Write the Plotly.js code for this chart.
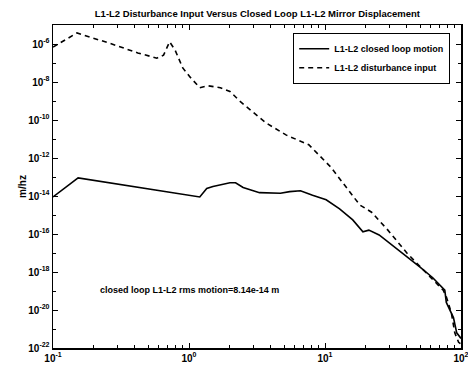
<!DOCTYPE html>
<html><head><meta charset="utf-8">
<script src="https://cdn.plot.ly/plotly-3.0.1.min.js"></script>
<style>html,body{margin:0;padding:0;background:#fff}#c{width:468px;height:365px}</style>
</head><body><div id="c"></div>
<script>
const closedFreq = [0.1, 0.153, 1.2, 1.35, 1.5, 2.0, 2.2, 2.5, 3.3, 4.7, 5.5, 6.6, 8.1, 10.2, 12.8, 16, 19, 21, 25, 35, 50, 62, 76, 78, 83, 88, 93, 98, 100];
const closedVals = [8.9e-15, 8.9e-14, 8.9e-15, 2.5e-14, 3.2e-14, 5.0e-14, 5.0e-14, 2.8e-14, 1.5e-14, 1.4e-14, 1.7e-14, 1.9e-14, 1.1e-14, 6.3e-15, 2.1e-15, 5.5e-16, 1.3e-16, 1.6e-16, 8.9e-17, 1.4e-17, 1.8e-18, 5.0e-19, 1.1e-19, 2.5e-20, 1.0e-20, 4.0e-21, 6.3e-22, 4.0e-22, 3.2e-22];
const distFreq = [0.1, 0.15, 0.26, 0.42, 0.58, 0.65, 0.72, 0.79, 0.90, 1.02, 1.2, 1.38, 1.7, 2.0, 2.4, 3.0, 3.7, 5.2, 7.6, 11, 13.5, 18, 22, 29, 40, 50, 62, 74, 78, 85, 90, 96, 100];
const distVals = [6.9e-7, 3.8e-6, 1.1e-6, 3.4e-7, 1.8e-7, 2.6e-7, 1.3e-6, 4.8e-7, 5.5e-8, 1.8e-8, 5.0e-9, 6.3e-9, 5.0e-9, 3.2e-9, 8.9e-10, 2.3e-10, 6.9e-11, 1.6e-11, 5.0e-12, 3.4e-13, 5.0e-14, 3.4e-15, 1.4e-15, 1.6e-16, 1.0e-17, 2.0e-18, 4.0e-19, 1.1e-19, 5.0e-20, 6.9e-21, 6.3e-22, 2.0e-22, 1.6e-22];
const xTickVals = [0.1, 1, 10, 100];
const xTickText = ['10<sup>-1</sup>', '10<sup>0</sup>', '10<sup>1</sup>', '10<sup>2</sup>'];
const yTickVals = [1e-22, 1e-20, 1e-18, 1e-16, 1e-14, 1e-12, 1e-10, 1e-8, 1e-6];
const yTickText = ['10<sup>-22</sup>', '10<sup>-20</sup>', '10<sup>-18</sup>', '10<sup>-16</sup>', '10<sup>-14</sup>', '10<sup>-12</sup>', '10<sup>-10</sup>', '10<sup>-8</sup>', '10<sup>-6</sup>'];
const xMinor = [0.2,0.3,0.4,0.5,0.6,0.7,0.8,0.9,2,3,4,5,6,7,8,9,20,30,40,50,60,70,80,90];
const yMinor = [1e-21, 1e-19, 1e-17, 1e-15, 1e-13, 1e-11, 1e-9, 1e-7, 1e-5];
const annotationText = 'closed loop L1-L2 rms motion=8.14e-14 m';
const titleText = 'L1-L2 Disturbance Input Versus Closed Loop L1-L2 Mirror Displacement';

const F = 'Liberation Sans, Arial, sans-serif';
const traces = [
  {x: closedFreq, y: closedVals, type: 'scatter', mode: 'lines', name: 'L1-L2 closed loop motion',
   line: {color: '#000', width: 1.6}},
  {x: distFreq, y: distVals, type: 'scatter', mode: 'lines', name: 'L1-L2 disturbance input',
   line: {color: '#000', width: 1.6, dash: '5px,4px'}}
];
const axBase = {type: 'log', showgrid: false, zeroline: false, showline: true, linecolor: '#000', linewidth: 1.5,
  mirror: 'ticks', ticks: 'inside', ticklen: 5, tickcolor: '#000', tickwidth: 1, tickmode: 'array',
  automargin: false, ticklabeloverflow: 'allow', tickfont: {family: F, size: 10, color: '#000', weight: 'bold'}};
const layout = {
  width: 468, height: 365, paper_bgcolor: '#fff', plot_bgcolor: '#fff',
  margin: {l: 53, r: 7, t: 25, b: 17, autoexpand: false},
  title: {text: titleText, font: {family: F, size: 9.5, color: '#000', weight: 'bold'}, x: 0.55, xanchor: 'center', y: 0.962, yanchor: 'middle'},
  xaxis: Object.assign({}, axBase, {range: [-1, 2], tickvals: xTickVals, ticktext: xTickText,
    minor: {tickmode: 'array', tickvals: xMinor, ticks: 'inside', ticklen: 3, tickcolor: '#000'}}),
  yaxis: Object.assign({}, axBase, {range: [-22, -5], tickvals: yTickVals, ticktext: yTickText,
    minor: {tickmode: 'array', tickvals: yMinor, ticks: 'inside', ticklen: 3, tickcolor: '#000'},
    title: {text: 'm/hz', font: {family: F, size: 10, color: '#000', weight: 'bold'}, standoff: 0}}),
  showlegend: true,
  legend: {x: 0.973, y: 0.975, xanchor: 'right', yanchor: 'top', bgcolor: '#fff', bordercolor: '#000', borderwidth: 1.2,
    font: {family: F, size: 9, color: '#000', weight: 'bold'}, tracegroupgap: 0, itemwidth: 30},
  annotations: [{text: annotationText, xref: 'paper', yref: 'paper', x: 0.11, y: 0.18, xanchor: 'left', yanchor: 'middle',
    showarrow: false, font: {family: F, size: 9, color: '#000', weight: 'bold'}}]
};
Plotly.newPlot('c', traces, layout, {displayModeBar: false, staticPlot: true});
</script></body></html>
